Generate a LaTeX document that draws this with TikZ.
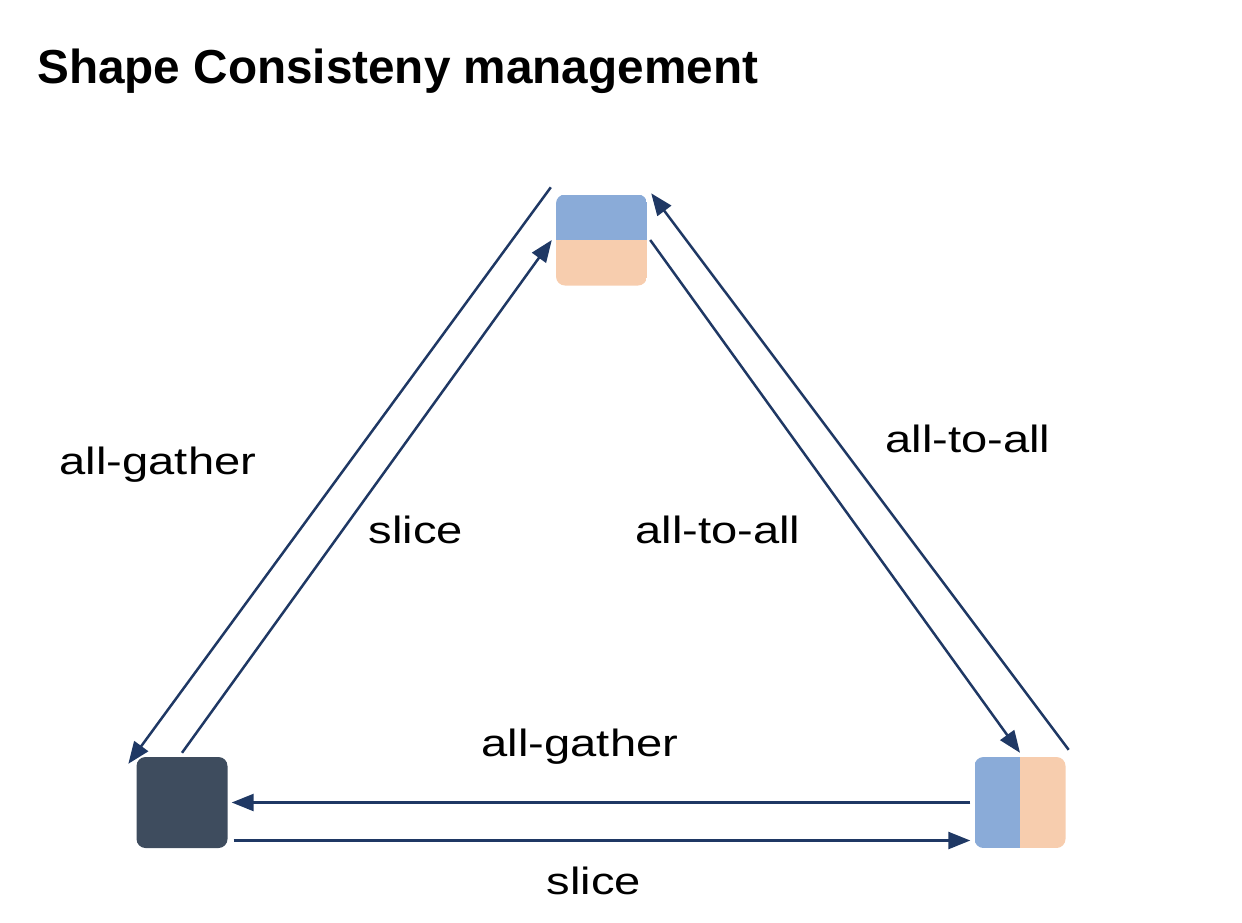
\documentclass[tikz,border=0pt]{standalone}
\usepackage{fontspec}
\setmainfont{Liberation Sans}
\newfontfamily\labelfont[FakeStretch=1.24]{Liberation Sans}
\usepackage{tikz}
\usetikzlibrary{arrows.meta}
\definecolor{navy}{HTML}{1F3864}
\definecolor{halfblue}{HTML}{8AABD8}
\definecolor{halfpeach}{HTML}{F7CDAE}
\definecolor{slate}{HTML}{3E4C5E}

\begin{document}
\begin{tikzpicture}[x=1pt, y=-1pt,
	block/.style={minimum width=91pt, minimum height=91pt, rounded corners=9pt, inner sep=0pt},
	rowsplit/.style={block, path picture={
		\fill[halfblue, sharp corners] (path picture bounding box.north west) rectangle (path picture bounding box.east);
		\fill[halfpeach, sharp corners] (path picture bounding box.west) rectangle (path picture bounding box.south east);}},
	colsplit/.style={block, path picture={
		\fill[halfblue, sharp corners] (path picture bounding box.north west) rectangle (path picture bounding box.south);
		\fill[halfpeach, sharp corners] (path picture bounding box.north) rectangle (path picture bounding box.south east);}},
	flow/.style={navy, line width=2.5pt, -{Triangle[length=22pt,width=17pt]}},
	lbl/.style={font=\labelfont\fontsize{38}{40}\selectfont, anchor=base, inner sep=0pt}]
\useasboundingbox (0,0) rectangle (1242,922);

\node[anchor=base west, inner sep=0pt, font=\bfseries\fontsize{47.7}{50}\selectfont] (title) at (37,83) {Shape Consisteny management};

% the three layouts
\node[rowsplit] (top) at (601.5,240) {};
\node[block, fill=slate] (full) at (182,802.5) {};
\node[colsplit] (split) at (1020,802.5) {};

\path[flow]
([shift={(-5,-7)}]top.north west) edge ([shift={(-8,7)}]full.north west)
([shift={(0,-4)}]full.north) edge ([shift={(-4,0)}]top.west)
([shift={(3,0)}]top.east) edge ([shift={(0,-4)}]split.north)
([shift={(3,-7)}]split.north east) edge ([shift={(4,-1)}]top.north east)
([shift={(-4,0)}]split.west) edge ([shift={(4,0)}]full.east)
([shift={(6,38)}]full.east) edge ([shift={(-4,38)}]split.west)
;

\node[lbl] (gatherl) at (158,474) {all-gather};
\node[lbl] (slicel) at (416,543) {slice};
\node[lbl] (alltoalli) at (718,543) {all-to-all};
\node[lbl] (alltoallo) at (968,452) {all-to-all};
\node[lbl] (gatherb) at (580,756) {all-gather};
\node[lbl] (sliceb) at (594,894) {slice};
\end{tikzpicture}
\end{document}
